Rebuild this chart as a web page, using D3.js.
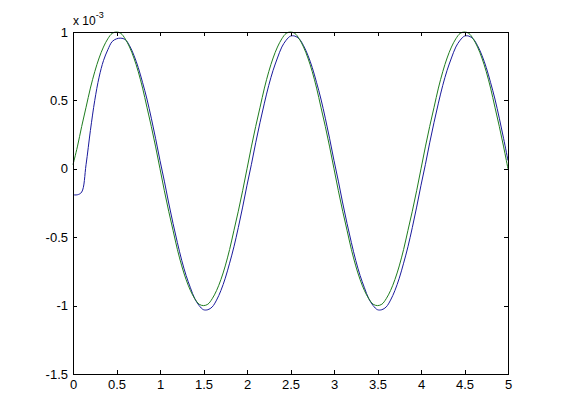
<!DOCTYPE html>
<html>
<head>
<meta charset="utf-8">
<script src="https://cdn.jsdelivr.net/npm/d3@7"></script>
<style>
  html, body { margin: 0; padding: 0; background: #ffffff; }
  svg { display: block; }
  text { font-family: "Liberation Sans", Arial, Helvetica, sans-serif; fill: #000; }
</style>
</head>
<body>
<svg id="chart" width="561" height="420"></svg>
<script>
// ---- data (values in units of 1e-3) ----
const tValues = [
  0.00,0.05,0.10,0.15,0.20,0.25,0.30,0.35,0.40,0.45,
  0.50,0.55,0.60,0.65,0.70,0.75,0.80,0.85,0.90,0.95,
  1.00,1.05,1.10,1.15,1.20,1.25,1.30,1.35,1.40,1.45,
  1.50,1.55,1.60,1.65,1.70,1.75,1.80,1.85,1.90,1.95,
  2.00,2.05,2.10,2.15,2.20,2.25,2.30,2.35,2.40,2.45,
  2.50,2.55,2.60,2.65,2.70,2.75,2.80,2.85,2.90,2.95,
  3.00,3.05,3.10,3.15,3.20,3.25,3.30,3.35,3.40,3.45,
  3.50,3.55,3.60,3.65,3.70,3.75,3.80,3.85,3.90,3.95,
  4.00,4.05,4.10,4.15,4.20,4.25,4.30,4.35,4.40,4.45,
  4.50,4.55,4.60,4.65,4.70,4.75,4.80,4.85,4.90,4.95,
  5.00
];
const greenValues = [
  0.03,0.16,0.31,0.45,0.59,0.71,0.81,0.89,0.95,0.99,
  1.00,0.99,0.95,0.89,0.81,0.71,0.59,0.45,0.31,0.16,
  0.00,-0.16,-0.31,-0.45,-0.59,-0.71,-0.81,-0.89,-0.95,-0.99,
  -1.00,-0.99,-0.95,-0.89,-0.81,-0.71,-0.59,-0.45,-0.31,-0.16,
  0.00,0.16,0.31,0.45,0.59,0.71,0.81,0.89,0.95,0.99,
  1.00,0.99,0.95,0.89,0.81,0.71,0.59,0.45,0.31,0.16,
  0.00,-0.16,-0.31,-0.45,-0.59,-0.71,-0.81,-0.89,-0.95,-0.99,
  -1.00,-0.99,-0.95,-0.89,-0.81,-0.71,-0.59,-0.45,-0.31,-0.16,
  0.00,0.16,0.31,0.45,0.59,0.71,0.81,0.89,0.95,0.99,
  1.00,0.99,0.95,0.89,0.81,0.71,0.59,0.45,0.31,0.16,
  0.00
];
const blueValues = [
  -0.19,-0.19,-0.17,0.03,0.28,0.50,0.67,0.79,0.87,0.93,
  0.95,0.955,0.945,0.90,0.83,0.74,0.63,0.51,0.37,0.22,
  0.06,-0.09,-0.25,-0.40,-0.54,-0.67,-0.78,-0.87,-0.95,-1.00,
  -1.03,-1.03,-1.01,-0.96,-0.89,-0.80,-0.69,-0.57,-0.43,-0.28,
  -0.12,0.03,0.19,0.34,0.48,0.61,0.72,0.81,0.89,0.94,
  0.97,0.97,0.95,0.90,0.83,0.74,0.63,0.51,0.37,0.22,
  0.06,-0.09,-0.25,-0.40,-0.54,-0.67,-0.78,-0.87,-0.95,-1.00,
  -1.03,-1.03,-1.01,-0.96,-0.89,-0.80,-0.69,-0.57,-0.43,-0.28,
  -0.12,0.03,0.19,0.34,0.48,0.61,0.72,0.81,0.89,0.94,
  0.97,0.97,0.95,0.90,0.83,0.74,0.63,0.51,0.37,0.22,
  0.06
];
const xTicks = [0, 0.5, 1, 1.5, 2, 2.5, 3, 3.5, 4, 4.5, 5];
const yTicks = [-1.5, -1, -0.5, 0, 0.5, 1];
const xDomain = [0, 5];
const yDomain = [-1.5, 1];

// ---- layout ----
const svg = d3.select("#chart");
const mLeft = 73, mRight = 508, mTop = 32, mBottom = 374;
const x = d3.scaleLinear().domain(xDomain).range([mLeft, mRight]);
const y = d3.scaleLinear().domain(yDomain).range([mBottom, mTop]);
const tickLen = 4;
const fmt = d => String(d);

// lines
const lineOf = vals => d3.line()
  .x((d, i) => x(tValues[i]))
  .y(d => y(d))
  .curve(d3.curveCatmullRom.alpha(0.5))(vals);

svg.append("path").attr("d", lineOf(blueValues))
  .attr("fill", "none").attr("stroke", "#1a1a9c").attr("stroke-width", 1);
svg.append("path").attr("d", lineOf(greenValues))
  .attr("fill", "none").attr("stroke", "#1f7d1f").attr("stroke-width", 1);

// axes (ticks inward)
const axB = svg.append("g").attr("transform", `translate(0,${mBottom})`)
  .call(d3.axisBottom(x).tickValues(xTicks).tickFormat(fmt)
    .tickSizeInner(-tickLen).tickSizeOuter(0).tickPadding(6));
const axT = svg.append("g").attr("transform", `translate(0,${mTop})`)
  .call(d3.axisTop(x).tickValues(xTicks).tickFormat("")
    .tickSizeInner(-tickLen).tickSizeOuter(0));
const axL = svg.append("g").attr("transform", `translate(${mLeft},0)`)
  .call(d3.axisLeft(y).tickValues(yTicks).tickFormat(fmt)
    .tickSizeInner(-tickLen).tickSizeOuter(0).tickPadding(5));
const axR = svg.append("g").attr("transform", `translate(${mRight},0)`)
  .call(d3.axisRight(y).tickValues(yTicks).tickFormat("")
    .tickSizeInner(-tickLen).tickSizeOuter(0));

[axB, axT, axL, axR].forEach(g => {
  g.select(".domain").remove();
  g.selectAll("line").attr("stroke", "#000").attr("shape-rendering", "crispEdges");
  g.selectAll("text").attr("font-size", 13).attr("fill", "#000")
    .attr("font-family", "'Liberation Sans', Arial, sans-serif");
});

// frame
svg.append("rect")
  .attr("x", mLeft).attr("y", mTop)
  .attr("width", mRight - mLeft).attr("height", mBottom - mTop)
  .attr("fill", "none").attr("stroke", "#000").attr("stroke-width", 1)
  .attr("shape-rendering", "crispEdges");

// exponent label
const ex = svg.append("text").attr("x", mLeft).attr("y", 25).attr("font-size", 12);
ex.append("tspan").text("x 10");
ex.append("tspan").attr("dy", -7).attr("font-size", 9).text("-3");
</script>
</body>
</html>
